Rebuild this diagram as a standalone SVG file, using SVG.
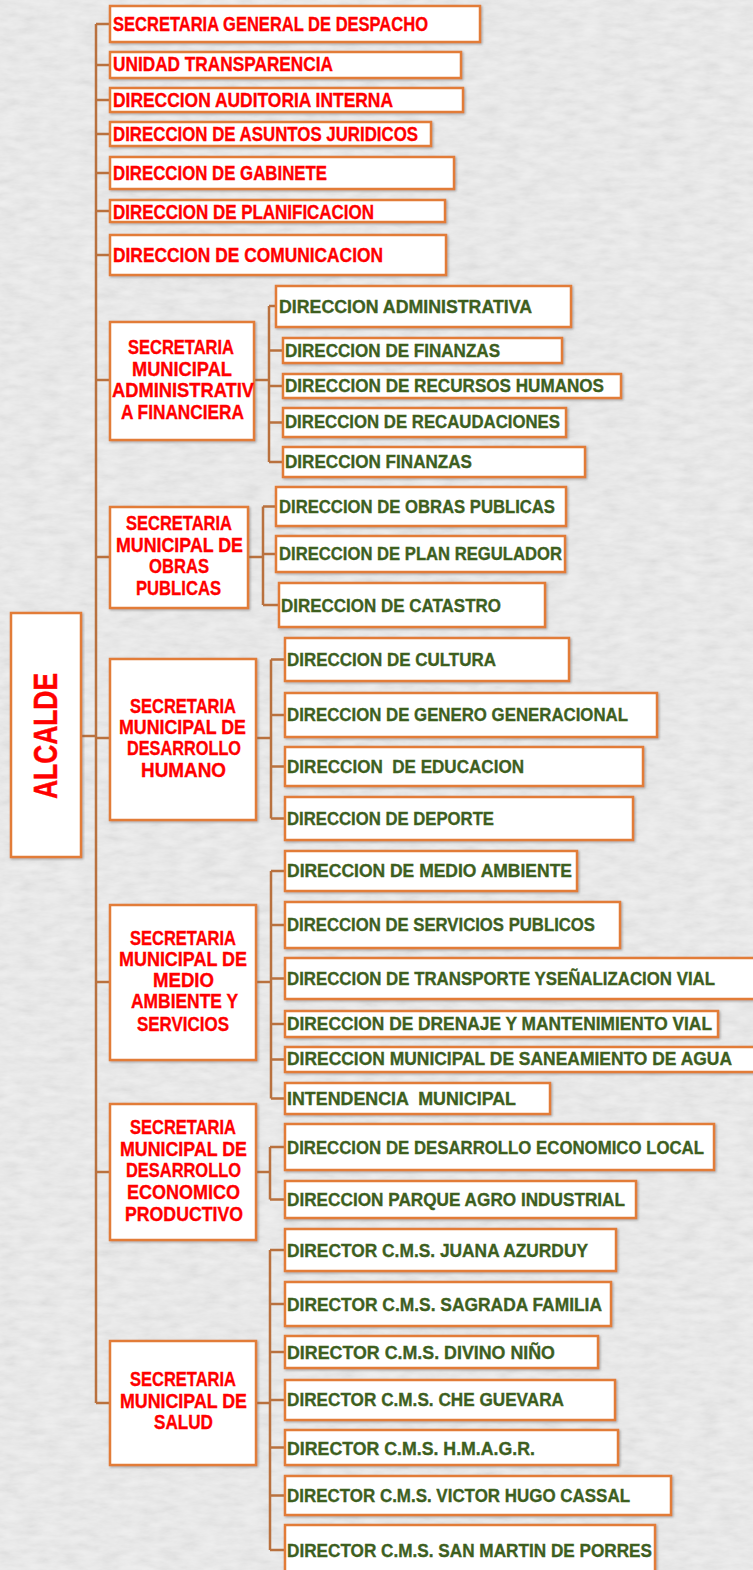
<svg xmlns="http://www.w3.org/2000/svg" width="753" height="1570" viewBox="0 0 753 1570">
<defs>
<filter id="noise" x="0" y="0" width="100%" height="100%">
<feTurbulence type="fractalNoise" baseFrequency="0.05 0.14" numOctaves="4" seed="7"/>
<feColorMatrix type="saturate" values="0"/>
<feComponentTransfer><feFuncA type="linear" slope="0" intercept="0.16"/></feComponentTransfer>
</filter>
<filter id="sh" x="-5%" y="-10%" width="110%" height="130%">
<feDropShadow dx="1.2" dy="1.2" stdDeviation="0.8" flood-color="#666" flood-opacity="0.5"/>
</filter>
<style>
.box{fill:#fff;stroke:#E27B37;stroke-width:2.5;filter:url(#sh)}
.conn{stroke:#B9713E;stroke-width:2.5;fill:none}
.r{fill:#FF0000;stroke:#FF0000;stroke-width:0.35;font-family:"Liberation Sans",Arial,sans-serif;font-weight:bold;font-size:19.5px;white-space:pre}
.g{fill:#3E5F1F;stroke:#3E5F1F;stroke-width:0.35;font-family:"Liberation Sans",Arial,sans-serif;font-weight:bold;font-size:18.5px;white-space:pre}
.big{fill:#FF0000;stroke:#FF0000;stroke-width:0.5;font-family:"Liberation Sans",Arial,sans-serif;font-weight:bold;font-size:33px}
</style>
</defs>
<rect width="753" height="1570" fill="#f0f0f0"/>
<rect width="753" height="1570" fill="#808080" filter="url(#noise)"/>

<g id="connectors" class="conn">
<path d="M96 24V1403"/>
<path d="M96 24H110M96 65H110M96 100H110M96 134H110M96 173H110M96 211H110M96 255H110M96 380H110M96 557H110M96 738H110M96 982H110M96 1172H110M96 1403H110"/>
<path d="M81 736H96"/>
<path d="M254 380H269M269 306V462M269 306H276M269 350.5H283M269 386H283M269 422.5H283M269 462H283"/>
<path d="M248 557H263M263 506.5V605M263 506.5H276M263 554H276M263 605H279"/>
<path d="M256 738H271M271 659.5V818.5M271 659.5H285M271 715H285M271 766.5H285M271 818.5H285"/>
<path d="M256 982H271M271 871V1098.5M271 871H285M271 925H285M271 978.5H285M271 1024H285M271 1059.5H285M271 1098.5H285"/>
<path d="M256 1172H270M270 1147V1199.5M270 1147H285M270 1199.5H285"/>
<path d="M256 1403H270M270 1250V1550M270 1250H285M270 1304H285M270 1352H285M270 1400H285M270 1447.5H285M270 1495.5H285M270 1550H285"/>
</g>

<g id="alcalde"><rect class="box" x="11" y="613" width="70" height="244"/><text class="big" transform="translate(57,736) rotate(-90)" x="-63" y="0" textLength="126" lengthAdjust="spacingAndGlyphs">ALCALDE</text></g>

<g id="n1"><rect class="box" x="110" y="6" width="370" height="36"/><text class="r" x="113" y="31" textLength="315" lengthAdjust="spacingAndGlyphs">SECRETARIA GENERAL DE DESPACHO</text></g>
<g id="n2"><rect class="box" x="110" y="52" width="351" height="26"/><text class="r" x="113" y="71" textLength="220" lengthAdjust="spacingAndGlyphs">UNIDAD TRANSPARENCIA</text></g>
<g id="n3"><rect class="box" x="110" y="88" width="353" height="24"/><text class="r" x="113" y="106.5" textLength="280" lengthAdjust="spacingAndGlyphs">DIRECCION AUDITORIA INTERNA</text></g>
<g id="n4"><rect class="box" x="110" y="122" width="321" height="24"/><text class="r" x="113" y="141" textLength="305" lengthAdjust="spacingAndGlyphs">DIRECCION DE ASUNTOS JURIDICOS</text></g>
<g id="n5"><rect class="box" x="110" y="157" width="344" height="32"/><text class="r" x="113" y="180" textLength="214" lengthAdjust="spacingAndGlyphs">DIRECCION DE GABINETE</text></g>
<g id="n6"><rect class="box" x="110" y="200" width="335" height="22"/><text class="r" x="113" y="218.5" textLength="261" lengthAdjust="spacingAndGlyphs">DIRECCION DE PLANIFICACION</text></g>
<g id="n7"><rect class="box" x="110" y="235" width="336" height="40"/><text class="r" x="113" y="261.5" textLength="270" lengthAdjust="spacingAndGlyphs">DIRECCION DE COMUNICACION</text></g>

<g id="sm-admin"><rect class="box" x="110" y="322" width="144" height="118"/>
<text class="r" x="128" y="354" textLength="106" lengthAdjust="spacingAndGlyphs">SECRETARIA</text>
<text class="r" x="132" y="376" textLength="100" lengthAdjust="spacingAndGlyphs">MUNICIPAL</text>
<text class="r" x="112" y="397" textLength="142" lengthAdjust="spacingAndGlyphs">ADMINISTRATIV</text>
<text class="r" x="121" y="419" textLength="123" lengthAdjust="spacingAndGlyphs">A FINANCIERA</text></g>
<g id="a1"><rect class="box" x="276" y="286" width="295" height="41"/><text class="g" x="279" y="312.5" textLength="253" lengthAdjust="spacingAndGlyphs">DIRECCION ADMINISTRATIVA</text></g>
<g id="a2"><rect class="box" x="283" y="338" width="279" height="25"/><text class="g" x="285" y="357" textLength="215" lengthAdjust="spacingAndGlyphs">DIRECCION DE FINANZAS</text></g>
<g id="a3"><rect class="box" x="283" y="374" width="338" height="24"/><text class="g" x="285" y="392" textLength="319" lengthAdjust="spacingAndGlyphs">DIRECCION DE RECURSOS HUMANOS</text></g>
<g id="a4"><rect class="box" x="283" y="408" width="283" height="29"/><text class="g" x="285" y="428" textLength="275" lengthAdjust="spacingAndGlyphs">DIRECCION DE RECAUDACIONES</text></g>
<g id="a5"><rect class="box" x="283" y="447" width="302" height="30"/><text class="g" x="285" y="467.5" textLength="187" lengthAdjust="spacingAndGlyphs">DIRECCION FINANZAS</text></g>

<g id="sm-obras"><rect class="box" x="110" y="507" width="138" height="101"/>
<text class="r" x="126" y="530" textLength="106" lengthAdjust="spacingAndGlyphs">SECRETARIA</text>
<text class="r" x="116" y="552" textLength="127" lengthAdjust="spacingAndGlyphs">MUNICIPAL DE</text>
<text class="r" x="149" y="573" textLength="60" lengthAdjust="spacingAndGlyphs">OBRAS</text>
<text class="r" x="136" y="595" textLength="85" lengthAdjust="spacingAndGlyphs">PUBLICAS</text></g>
<g id="o1"><rect class="box" x="276" y="487" width="290" height="39"/><text class="g" x="279" y="512.5" textLength="276" lengthAdjust="spacingAndGlyphs">DIRECCION DE OBRAS PUBLICAS</text></g>
<g id="o2"><rect class="box" x="276" y="536" width="289" height="36"/><text class="g" x="279" y="560" textLength="283" lengthAdjust="spacingAndGlyphs">DIRECCION DE PLAN REGULADOR</text></g>
<g id="o3"><rect class="box" x="279" y="583" width="266" height="44"/><text class="g" x="281" y="611.5" textLength="220" lengthAdjust="spacingAndGlyphs">DIRECCION DE CATASTRO</text></g>

<g id="sm-dh"><rect class="box" x="110" y="659" width="146" height="161"/>
<text class="r" x="130" y="713" textLength="106" lengthAdjust="spacingAndGlyphs">SECRETARIA</text>
<text class="r" x="119" y="734" textLength="127" lengthAdjust="spacingAndGlyphs">MUNICIPAL DE</text>
<text class="r" x="127" y="755" textLength="114" lengthAdjust="spacingAndGlyphs">DESARROLLO</text>
<text class="r" x="141" y="777" textLength="85" lengthAdjust="spacingAndGlyphs">HUMANO</text></g>
<g id="d1"><rect class="box" x="285" y="638" width="284" height="43"/><text class="g" x="287" y="666" textLength="209" lengthAdjust="spacingAndGlyphs">DIRECCION DE CULTURA</text></g>
<g id="d2"><rect class="box" x="285" y="693" width="372" height="44"/><text class="g" x="287" y="720.5" textLength="341" lengthAdjust="spacingAndGlyphs">DIRECCION DE GENERO GENERACIONAL</text></g>
<g id="d3"><rect class="box" x="285" y="747" width="358" height="39"/><text class="g" x="287" y="772.5" textLength="237" lengthAdjust="spacingAndGlyphs">DIRECCION  DE EDUCACION</text></g>
<g id="d4"><rect class="box" x="285" y="797" width="348" height="43"/><text class="g" x="287" y="824.5" textLength="207" lengthAdjust="spacingAndGlyphs">DIRECCION DE DEPORTE</text></g>

<g id="sm-ma"><rect class="box" x="110" y="905" width="146" height="155"/>
<text class="r" x="130" y="945" textLength="106" lengthAdjust="spacingAndGlyphs">SECRETARIA</text>
<text class="r" x="119" y="966" textLength="128" lengthAdjust="spacingAndGlyphs">MUNICIPAL DE</text>
<text class="r" x="153" y="987" textLength="61" lengthAdjust="spacingAndGlyphs">MEDIO</text>
<text class="r" x="131" y="1008" textLength="107" lengthAdjust="spacingAndGlyphs">AMBIENTE Y</text>
<text class="r" x="137" y="1031" textLength="92" lengthAdjust="spacingAndGlyphs">SERVICIOS</text></g>
<g id="m1"><rect class="box" x="285" y="851" width="292" height="40"/><text class="g" x="287" y="877" textLength="285" lengthAdjust="spacingAndGlyphs">DIRECCION DE MEDIO AMBIENTE</text></g>
<g id="m2"><rect class="box" x="285" y="902" width="335" height="46"/><text class="g" x="287" y="931" textLength="308" lengthAdjust="spacingAndGlyphs">DIRECCION DE SERVICIOS PUBLICOS</text></g>
<g id="m3"><rect class="box" x="285" y="958" width="480" height="41"/><text class="g" x="287" y="985" textLength="428" lengthAdjust="spacingAndGlyphs">DIRECCION DE TRANSPORTE YSEÑALIZACION VIAL</text></g>
<g id="m4"><rect class="box" x="285" y="1011" width="433" height="26"/><text class="g" x="287" y="1029.5" textLength="425" lengthAdjust="spacingAndGlyphs">DIRECCION DE DRENAJE Y MANTENIMIENTO VIAL</text></g>
<g id="m5"><rect class="box" x="285" y="1047" width="475" height="25"/><text class="g" x="287" y="1065" textLength="445" lengthAdjust="spacingAndGlyphs">DIRECCION MUNICIPAL DE SANEAMIENTO DE AGUA</text></g>
<g id="m6"><rect class="box" x="285" y="1083" width="265" height="31"/><text class="g" x="287" y="1104.5" textLength="229" lengthAdjust="spacingAndGlyphs">INTENDENCIA  MUNICIPAL</text></g>

<g id="sm-econ"><rect class="box" x="110" y="1104" width="146" height="136"/>
<text class="r" x="130" y="1134" textLength="106" lengthAdjust="spacingAndGlyphs">SECRETARIA</text>
<text class="r" x="120" y="1156" textLength="127" lengthAdjust="spacingAndGlyphs">MUNICIPAL DE</text>
<text class="r" x="126" y="1177" textLength="115" lengthAdjust="spacingAndGlyphs">DESARROLLO</text>
<text class="r" x="127" y="1199" textLength="113" lengthAdjust="spacingAndGlyphs">ECONOMICO</text>
<text class="r" x="125" y="1221" textLength="118" lengthAdjust="spacingAndGlyphs">PRODUCTIVO</text></g>
<g id="e1"><rect class="box" x="285" y="1124" width="429" height="46"/><text class="g" x="287" y="1153.5" textLength="417" lengthAdjust="spacingAndGlyphs">DIRECCION DE DESARROLLO ECONOMICO LOCAL</text></g>
<g id="e2"><rect class="box" x="285" y="1181" width="351" height="37"/><text class="g" x="287" y="1206" textLength="338" lengthAdjust="spacingAndGlyphs">DIRECCION PARQUE AGRO INDUSTRIAL</text></g>

<g id="sm-salud"><rect class="box" x="110" y="1341" width="146" height="124"/>
<text class="r" x="130" y="1386" textLength="106" lengthAdjust="spacingAndGlyphs">SECRETARIA</text>
<text class="r" x="120" y="1408" textLength="127" lengthAdjust="spacingAndGlyphs">MUNICIPAL DE</text>
<text class="r" x="154" y="1429" textLength="59" lengthAdjust="spacingAndGlyphs">SALUD</text></g>
<g id="s1"><rect class="box" x="285" y="1229" width="331" height="42"/><text class="g" x="287" y="1257" textLength="301" lengthAdjust="spacingAndGlyphs">DIRECTOR C.M.S. JUANA AZURDUY</text></g>
<g id="s2"><rect class="box" x="285" y="1282" width="326" height="44"/><text class="g" x="287" y="1311" textLength="315" lengthAdjust="spacingAndGlyphs">DIRECTOR C.M.S. SAGRADA FAMILIA</text></g>
<g id="s3"><rect class="box" x="285" y="1336" width="313" height="32"/><text class="g" x="287" y="1359" textLength="268" lengthAdjust="spacingAndGlyphs">DIRECTOR C.M.S. DIVINO NIÑO</text></g>
<g id="s4"><rect class="box" x="285" y="1380" width="330" height="40"/><text class="g" x="287" y="1406" textLength="277" lengthAdjust="spacingAndGlyphs">DIRECTOR C.M.S. CHE GUEVARA</text></g>
<g id="s5"><rect class="box" x="285" y="1430" width="333" height="35"/><text class="g" x="287" y="1455" textLength="248" lengthAdjust="spacingAndGlyphs">DIRECTOR C.M.S. H.M.A.G.R.</text></g>
<g id="s6"><rect class="box" x="285" y="1476" width="386" height="39"/><text class="g" x="287" y="1502" textLength="343" lengthAdjust="spacingAndGlyphs">DIRECTOR C.M.S. VICTOR HUGO CASSAL</text></g>
<g id="s7"><rect class="box" x="285" y="1525" width="370" height="52"/><text class="g" x="287" y="1557" textLength="365" lengthAdjust="spacingAndGlyphs">DIRECTOR C.M.S. SAN MARTIN DE PORRES</text></g>
</svg>
